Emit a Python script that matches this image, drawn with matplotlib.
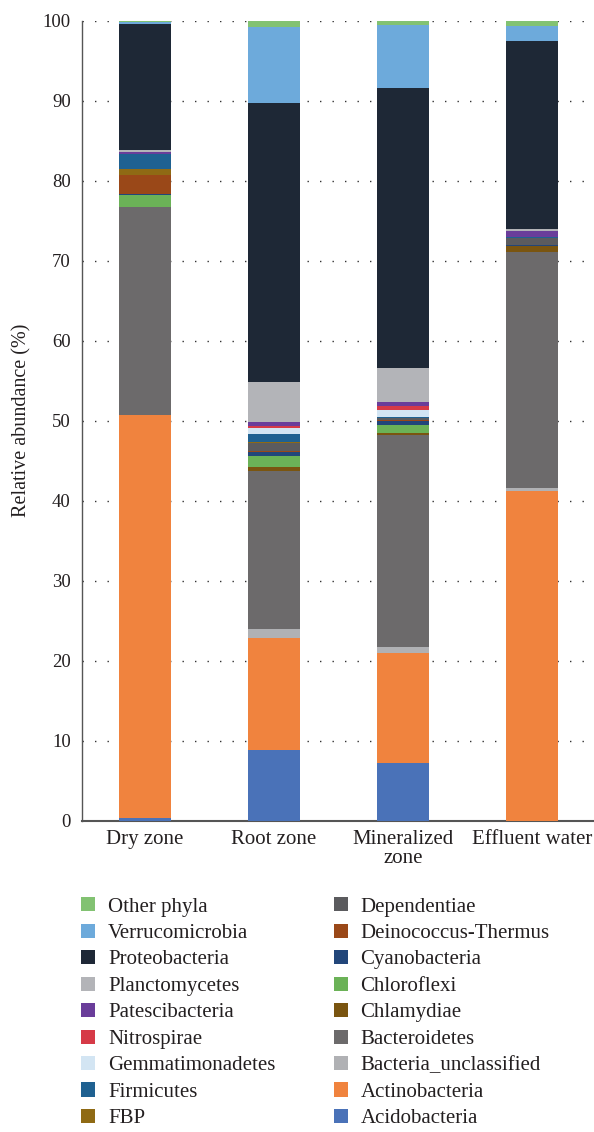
import matplotlib
matplotlib.use("Agg")
import matplotlib.pyplot as plt
import numpy as np

plt.rcParams['font.family'] = ['Liberation Serif', 'DejaVu Serif']

samples = ["Dry zone", "Root zone", "Mineralized\nzone", "Effluent water"]

phyla = ["Acidobacteria", "Actinobacteria", "Bacteria_unclassified", "Bacteroidetes",
         "Chlamydiae", "Chloroflexi", "Cyanobacteria", "Deinococcus-Thermus",
         "Dependentiae", "FBP", "Firmicutes", "Gemmatimonadetes", "Nitrospirae",
         "Patescibacteria", "Planctomycetes", "Proteobacteria", "Verrucomicrobia",
         "Other phyla"]

# values per sample (Dry, Root, Mineralized, Effluent)
acidobacteria = [0.4, 8.8, 7.2, 0.0]
actinobacteria = [50.3, 14.1, 13.8, 41.2]
bacteria_unclassified = [0.0, 1.1, 0.7, 0.4]
bacteroidetes = [26.0, 19.7, 26.5, 29.5]
chlamydiae = [0.0, 0.5, 0.3, 0.75]
chloroflexi = [1.5, 1.4, 1.0, 0.0]
cyanobacteria = [0.2, 0.5, 0.5, 0.15]
deinococcus = [2.3, 0.1, 0.05, 0.0]
dependentiae = [0.0, 1.0, 0.25, 0.9]
fbp = [0.8, 0.1, 0.0, 0.0]
firmicutes = [1.9, 1.0, 0.2, 0.1]
gemmatimonadetes = [0.0, 0.8, 0.9, 0.0]
nitrospirae = [0.0, 0.3, 0.5, 0.0]
patescibacteria = [0.2, 0.4, 0.5, 0.75]
planctomycetes = [0.2, 5.0, 4.2, 0.25]
proteobacteria = [15.8, 34.9, 35.0, 23.5]
verrucomicrobia = [0.2, 9.5, 7.9, 1.8]
other_phyla = [0.2, 0.9, 0.6, 0.8]

colors = ["#4a72b8", "#f0833e", "#b0b1b4", "#6c6a6b",
          "#7a5510", "#6bb257", "#22467a", "#9a4818",
          "#5b5b5e", "#8f6a14", "#1f6191", "#d3e5f3", "#d63a47",
          "#6a3d9a", "#b3b4b8", "#1e2836", "#6daadb", "#82c272"]

series = [acidobacteria, actinobacteria, bacteria_unclassified, bacteroidetes,
          chlamydiae, chloroflexi, cyanobacteria, deinococcus, dependentiae, fbp,
          firmicutes, gemmatimonadetes, nitrospirae, patescibacteria, planctomycetes,
          proteobacteria, verrucomicrobia, other_phyla]

fig = plt.figure(figsize=(5.94, 11.32), dpi=100)
ax = fig.add_axes([0.138, 0.275, 0.862, 0.7067])

x = np.arange(len(samples))
bottom = np.zeros(len(samples))
handles = []
for name, vals, c in zip(phyla, series, colors):
    v = np.array(vals, dtype=float)
    b = ax.bar(x, v, width=0.40, bottom=bottom, color=c, label=name, zorder=3, linewidth=0)
    handles.append(b)
    bottom += v

ax.set_ylim(0, 100)
ax.set_xlim(-0.488, 3.48)
ax.set_yticks(np.arange(0, 101, 10))
ax.set_xticks(x)
ax.set_xticklabels(samples, fontsize=15, color="#231f20", linespacing=0.95)
ax.tick_params(axis='y', labelsize=13.5, colors="#231f20", length=0, pad=8)
ax.tick_params(axis='x', length=0, pad=7)
ax.yaxis.grid(True, linestyle=(0, (1, 8)), color="#333333", linewidth=1.0, zorder=0)
ax.set_axisbelow(True)
for s in ["top", "right"]:
    ax.spines[s].set_visible(False)
ax.spines["left"].set_color("#555555")
ax.spines["bottom"].set_color("#555555")
ax.spines["left"].set_linewidth(1.0)
ax.spines["bottom"].set_linewidth(1.5)
ax.set_ylabel("Relative abundance (%)", fontsize=14.5, color="#231f20", labelpad=8)

leg = fig.legend(handles[::-1], phyla[::-1], ncol=2, loc="upper left",
                 bbox_to_anchor=(0.1364, 0.2075), frameon=False, fontsize=15,
                 borderpad=0, borderaxespad=0,
                 handlelength=0.67, handleheight=0.67, handletextpad=0.62,
                 columnspacing=2.8, labelspacing=0.34, labelcolor="#231f20")

fig.savefig("out.png", dpi=100)
